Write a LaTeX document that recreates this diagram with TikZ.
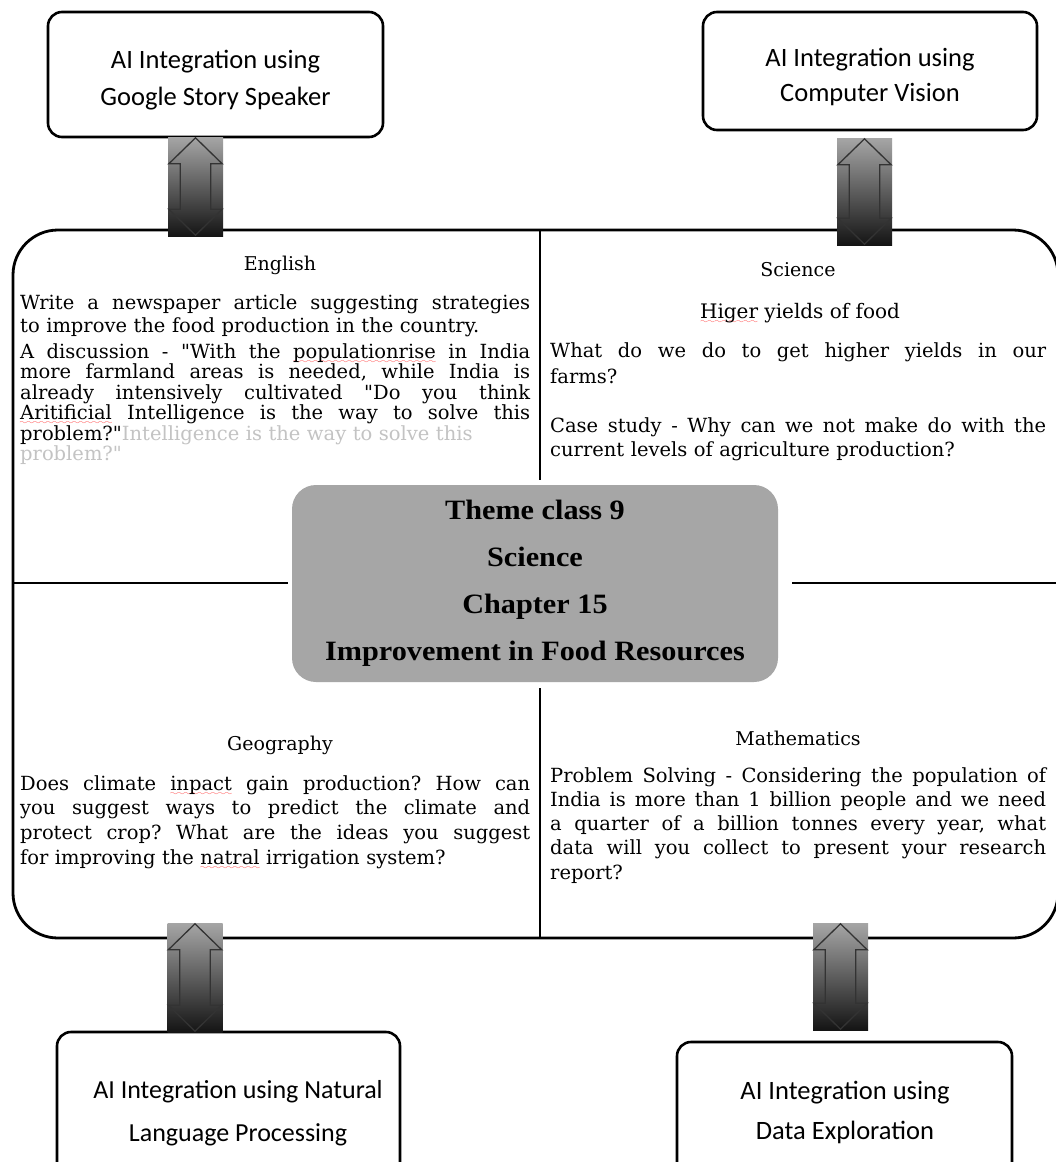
\documentclass[tikz,border=0pt]{standalone}
\usepackage{fontspec}
\setmainfont{DejaVu Serif}
\newfontfamily\boxfont{Carlito}
\newfontfamily\ctrfont[FakeStretch=1.08]{Liberation Serif}
\usetikzlibrary{calc}
\definecolor{centerfill}{RGB}{166,166,166}
\definecolor{ghost}{RGB}{195,195,195}
\font\wavefnt=lasy6 scaled 1300
\frenchspacing
\newcommand\dq{{\addfontfeatures{Ligatures=TeXOff}\char34}}
\newcommand\redwave[1]{\setbox0\hbox{#1}\rlap{\lower5pt\hbox to\wd0{\color{red!75}\xleaders\hbox{\wavefnt\char58}\hfil}}#1}
\newcommand\jl[1]{\makebox[\hsize][s]{\spaceskip=0pt\xspaceskip=0pt\frenchspacing #1}}
\newcommand\dblarrow[1]{%
  \draw[arrowline] ([yshift=-1pt]#1.north) -- ([xshift=-1pt,yshift=-27pt]#1.north east)
   -- ([xshift=-12.5pt,yshift=-27pt]#1.north east) -- ([xshift=-12.5pt,yshift=27pt]#1.south east)
   -- ([xshift=-1pt,yshift=27pt]#1.south east) -- ([yshift=1pt]#1.south)
   -- ([xshift=1pt,yshift=27pt]#1.south west) -- ([xshift=12.5pt,yshift=27pt]#1.south west)
   -- ([xshift=12.5pt,yshift=-27pt]#1.north west) -- ([xshift=1pt,yshift=-27pt]#1.north west) -- cycle;}
\begin{document}
\begin{tikzpicture}[x=1pt,y=-1pt,
  aibox/.style={draw, line width=2.6pt, rounded corners=14pt, fill=white, inner sep=0pt},
  aitext/.style={font=\boxfont\fontsize{26.5}{37}\selectfont, align=center, inner sep=0pt},
  mainline/.style={line width=2.8pt},
  arrowrect/.style={draw=none, inner sep=0pt, minimum width=55pt, top color=black!35, bottom color=black!92},
  arrowline/.style={draw=black!80, line width=1.3pt, line join=miter},
  heading/.style={font=\fontsize{19}{22}\selectfont, inner sep=0pt},
  para/.style={font=\fontsize{19.5}{#1}\selectfont, inner sep=0pt, align=left, anchor=base west},
  lpara/.style={para=#1, text width=510pt},
  rpara/.style={para=#1, text width=496pt},
  centerbox/.style={fill=centerfill, rounded corners=24pt, minimum width=486pt, minimum height=197pt, inner sep=0pt,
     font=\ctrfont\bfseries\fontsize{28}{47}\selectfont, align=center}
]
\useasboundingbox (0,0) rectangle (1056,1162);
\fill[white] (0,0) rectangle (1056,1162);
\clip (0,0) rectangle (1056,1162);

% main frame and dividers
\draw[mainline, rounded corners=45pt] (13,230) rectangle (1058,938);
\draw[mainline] (540,230) -- (540,480);
\draw[mainline] (540,688) -- (540,938);
\draw[mainline] (13,583) -- (288,583);
\draw[mainline] (792,583) -- (1058,583);

% centre
\node[centerbox] (center) at (535,583.5) {\raisebox{6pt}{\parbox{480pt}{\centering Theme class 9\\Science\\Chapter 15\\Improvement in Food Resources}}};

% AI boxes
\node[aibox, minimum width=335pt, minimum height=125pt] (tl) at (215.5,74.5) {};
\node[aitext] (tlt) at (215.5,80) {AI Integration using\\Google Story Speaker};
\node[aibox, minimum width=334pt, minimum height=118pt] (tr) at (870,71) {};
\node[aitext, font=\boxfont\fontsize{26.5}{35}\selectfont] (trt) at (870,77) {AI Integration using\\Computer Vision};
\node[aibox, minimum width=343pt, minimum height=150pt] (bl) at (228.5,1107) {};
\node[aitext, font=\boxfont\fontsize{26}{43}\selectfont] (blt) at (238,1113) {AI Integration using Natural\\Language Processing};
\node[aibox, minimum width=335pt, minimum height=140pt] (br) at (844.5,1112) {};
\node[aitext, font=\boxfont\fontsize{26.5}{40}\selectfont] (brt) at (845,1112) {AI Integration using\\Data Exploration};

% arrows
\node[arrowrect, minimum height=99pt] (a1) at (195.5,186.5) {};
\dblarrow{a1}
\node[arrowrect, minimum height=107pt] (a2) at (864.5,191.5) {};
\dblarrow{a2}
\node[arrowrect, minimum height=109pt] (a3) at (195,977.5) {};
\dblarrow{a3}
\node[arrowrect, minimum height=107pt] (a4) at (840.5,976.5) {};
\dblarrow{a4}

% English
\node[heading] (eng) at (280,265) {English};
\node[lpara=23] (eng1) at (20,309) {\jl{Write a newspaper article suggesting strategies}\\to improve the food production in the country.};
\node[lpara=20.5] (eng2) at (20,358) {\jl{A discussion - \dq With the \redwave{populationrise} in India}\\\jl{more farmland areas is needed, while India is}\\\jl{already intensively cultivated \dq Do you think}\\\jl{\redwave{Aritificial} Intelligence is the way to solve this}\\problem?\dq\textcolor{ghost}{Intelligence is the way to solve this}\\\textcolor{ghost}{problem?\dq}};

% Geography
\node[heading] (geo) at (280,745) {Geography};
\node[lpara=24.7] (geo1) at (20,790) {\jl{Does climate \redwave{inpact} gain production? How can}\\\jl{you suggest ways to predict the climate and}\\\jl{protect crop? What are the ideas you suggest}\\for improving the \redwave{natral} irrigation system?};

% Science
\node[heading] (sci) at (798,270) {Science};
\node[heading, font=\fontsize{20}{22}\selectfont] (sci2) at (800,313) {\redwave{Higer} yields of food};
\node[rpara=26] (sci3) at (550,357) {\jl{What do we do to get higher yields in our}\\farms?};
\node[rpara=24] (sci4) at (550,432) {\jl{Case study - Why can we not make do with the}\\current levels of agriculture production?};

% Mathematics
\node[heading] (math) at (798,738) {Mathematics};
\node[rpara=24.3] (math1) at (550,782) {\jl{Problem Solving - Considering the population of}\\\jl{India is more than 1 billion people and we need}\\\jl{a quarter of a billion tonnes every year, what}\\\jl{data will you collect to present your research}\\report?};
\end{tikzpicture}
\end{document}
